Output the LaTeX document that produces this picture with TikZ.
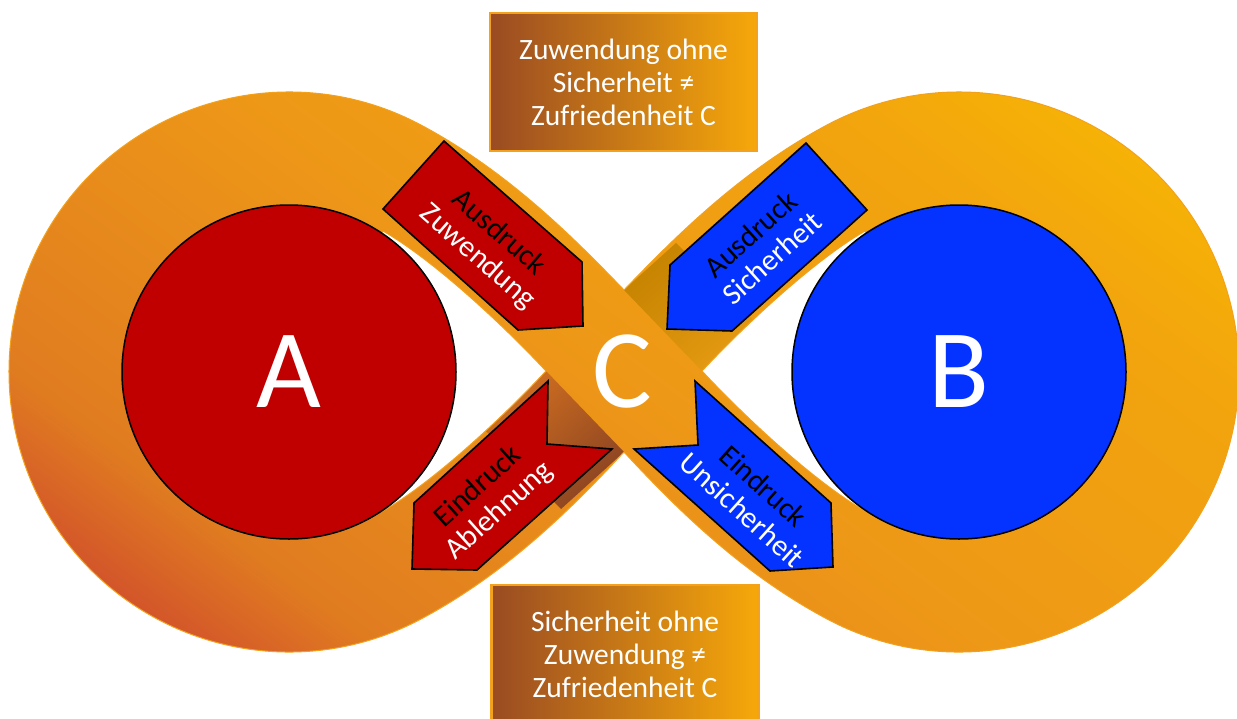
\documentclass[tikz,border=0pt]{standalone}
\usepackage{fontspec}
\setmainfont{Carlito}
\usepackage{tikz}
\definecolor{bandlow}{HTML}{D3552A}
\definecolor{bandorange}{HTML}{E07C20}
\definecolor{bandmid}{HTML}{EE9817}
\definecolor{bandupper}{HTML}{F2A50D}
\definecolor{bandhigh}{HTML}{F6B206}
\definecolor{bandedge}{HTML}{F3A11C}
\definecolor{shadegold}{HTML}{C58300}
\definecolor{shadelight}{HTML}{E59A12}
\definecolor{shadebrown}{HTML}{8A4322}
\definecolor{shadeorange}{HTML}{D27020}
\definecolor{redA}{HTML}{C00000}
\definecolor{blueB}{HTML}{0433FF}
\definecolor{boxleft}{HTML}{9A4B22}
\definecolor{boxmid}{HTML}{D97B1B}
\definecolor{boxright}{HTML}{F6A80A}
\definecolor{boxedge}{HTML}{F4A11E}
\pgfdeclarehorizontalshading{bandshade}{100bp}{color(0bp)=(bandlow); color(37.5bp)=(bandlow); color(40.5bp)=(bandorange); color(50bp)=(bandmid); color(59bp)=(bandupper); color(62.5bp)=(bandhigh); color(100bp)=(bandhigh)}
\newcommand\bandpath{(624,290) .. controls (575.4,239.7) and (508.8,171.7) .. (420.5,124.8)
    arc[start angle=-62, end angle=-298, radius=280]
    .. controls (508.8,572.3) and (575.4,504.3) .. (624,452)
    .. controls (672.6,504.3) and (739.2,572.3) .. (827.5,619.2)
    arc[start angle=118, end angle=-118, radius=280]
    .. controls (739.2,171.7) and (672.6,239.7) .. (624,290) -- cycle
  (546,371) .. controls (505.1,327.1) and (435,261) .. (383,231) -- (289,372) -- (383,511)
    .. controls (435,481) and (505.1,414.9) .. (546,371) -- cycle
  (702,371) .. controls (742.9,327.1) and (813,261) .. (865,231) -- (959,372) -- (865,511)
    .. controls (813,481) and (742.9,414.9) .. (702,371) -- cycle}

\begin{document}
\begin{tikzpicture}[x=1pt, y=-1pt,
    person/.style={circle, draw=black, line width=1.5, minimum size=334, inner sep=0pt, text=white, font=\fontsize{112}{112}\selectfont},
    redarrow/.style={fill=redA, draw=black, line width=1.6},
    bluearrow/.style={fill=blueB, draw=black, line width=1.6},
    arrowlabel/.style={align=center, inner sep=0pt, font=\fontsize{30}{32}\selectfont},
    infobox/.style={rectangle, minimum width=267, minimum height=138, left color=boxleft, middle color=boxmid, right color=boxright, draw=boxedge, line width=2.5, text=white, align=center, font=\fontsize{29.5}{33}\selectfont}]
  \useasboundingbox (0,0) rectangle (1237,718);
  % infinity band with the shadow where it crosses
  \begin{scope}[even odd rule]
    \clip \bandpath;
    \shade[shading=bandshade, shading angle=53] (-340,-592) rectangle (1588,1336);
    \shade[left color=shadegold, right color=shadelight, shading angle=42] (624,290) -- (702,371) -- (756,323) -- (676,243) -- cycle;
    \shade[left color=shadeorange, right color=shadebrown, shading angle=42] (546,371) -- (624,452) -- (561,509) -- (483,428) -- cycle;
  \end{scope}
  \draw[bandedge, line width=1, even odd rule] \bandpath;
  % A and B
  \node[person, fill=redA] (A) at (289,372) {A};
  \node[person, fill=blueB] (B) at (959,372) {B};
  % arrows
  \draw[redarrow] (444,141) -- (582,262) -- (583,326) -- (518,330) -- (383,209) -- cycle;
  \draw[bluearrow] (806,143) -- (867,210) -- (732,331) -- (667,329) -- (670,265) -- cycle;
  \draw[redarrow] (548,381) -- (547,444) -- (612,449) -- (477,570) -- (412,569) -- (414,503) -- cycle;
  \draw[bluearrow] (695,381) -- (698,445) -- (634,449) -- (770,571) -- (833,567) -- (831,503) -- cycle;
  \node[arrowlabel, rotate=-41.2] (ausZ) at (488,245) {Ausdruck\\\textcolor{white}{Zuwendung}};
  \node[arrowlabel, rotate=41.9] (ausS) at (761,246) {Ausdruck\\\textcolor{white}{Sicherheit}};
  \node[arrowlabel, rotate=42] (einA) at (489,499) {Eindruck\\\textcolor{white}{Ablehnung}};
  \node[arrowlabel, rotate=-42] (einU) at (753,498) {Eindruck\\\textcolor{white}{Unsicherheit}};
  \node[text=white, inner sep=0pt, font=\fontsize{112}{112}\selectfont] (C) at (622,372) {C};
  % boxes
  \node[infobox] (top) at (623.5,82) {Zuwendung ohne\\Sicherheit ≠\\Zufriedenheit C};
  \node[infobox] (bottom) at (625,654) {Sicherheit ohne\\Zuwendung ≠\\Zufriedenheit C};
\end{tikzpicture}
\end{document}
